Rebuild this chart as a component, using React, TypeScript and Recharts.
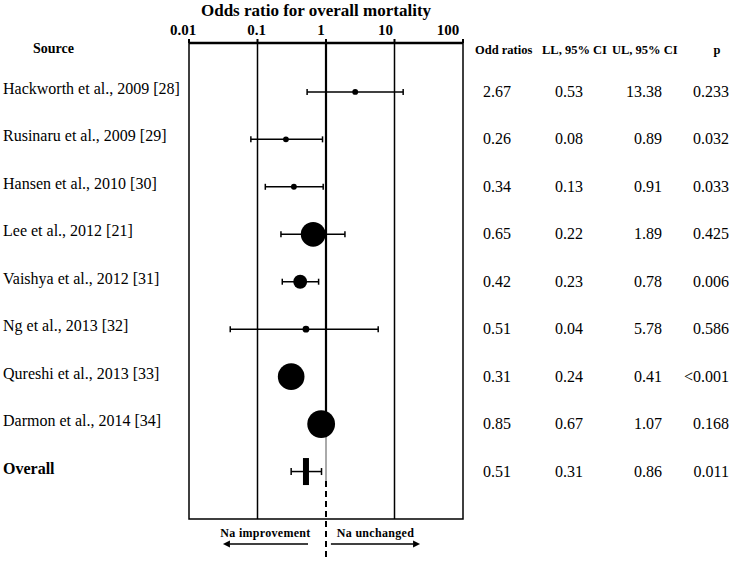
import React from 'react';
import {
  ComposedChart,
  Scatter,
  XAxis,
  YAxis,
  ZAxis,
  ErrorBar,
  ReferenceLine,
  ReferenceArea,
  Customized,
} from 'recharts';

// ---------- data ----------
const sources = [
  'Hackworth et al., 2009 [28]',
  'Rusinaru et al., 2009 [29]',
  'Hansen et al., 2010 [30]',
  'Lee et al., 2012 [21]',
  'Vaishya et al., 2012 [31]',
  'Ng et al., 2013 [32]',
  'Qureshi et al., 2013 [33]',
  'Darmon et al., 2014 [34]',
  'Overall',
];
const oddsRatios = [2.67, 0.26, 0.34, 0.65, 0.42, 0.51, 0.31, 0.85, 0.51];
const lowerCI = [0.53, 0.08, 0.13, 0.22, 0.23, 0.04, 0.24, 0.67, 0.31];
const upperCI = [13.38, 0.89, 0.91, 1.89, 0.78, 5.78, 0.41, 1.07, 0.86];
const pValues = ['0.233', '0.032', '0.033', '0.425', '0.006', '0.586', '<0.001', '0.168', '0.011'];
// relative study weights (shown as marker area)
const studyWeights = [1.4, 1.4, 1.4, 25, 7.9, 1.9, 29, 31.5];
const xTicks = [0.01, 0.1, 1, 10, 100];
const headers = ['Odd ratios', 'LL, 95% CI', 'UL, 95% CI', 'p'];

// ---------- derived tables ----------
const studies = studyWeights.map((w, i) => ({
  x: oddsRatios[i],
  y: i,
  w,
  err: [oddsRatios[i] - lowerCI[i], upperCI[i] - oddsRatios[i]],
}));
const overallIdx = sources.length - 1;
const overall = [
  {
    x: oddsRatios[overallIdx],
    y: overallIdx,
    err: [oddsRatios[overallIdx] - lowerCI[overallIdx], upperCI[overallIdx] - oddsRatios[overallIdx]],
  },
];

const FONT = '"Liberation Serif", "Times New Roman", serif';
const Y_DOMAIN: [number, number] = [-1.03, 9];
const HEADER_ROW = -0.92;
const tickShift = [-6, -1, -5, -9, -15];

const XTick = (props: any) => {
  const { x, y, payload, index } = props;
  return (
    <text
      x={x + (tickShift[index] ?? 0)}
      y={y - 2}
      textAnchor="middle"
      style={{ fontFamily: FONT }}
      fontWeight="bold"
      fontSize={15}
      fill="#000"
    >
      {String(payload.value)}
    </text>
  );
};

const RowTick = (props: any) => {
  const { y, payload } = props;
  const v = payload.value;
  if (v < 0) {
    return (
      <g style={{ fontFamily: FONT }} fontWeight="bold" fontSize={12.5} fill="#000">
        <text x={33} y={y + 5} fontSize={14} style={{ fontFamily: FONT }}>Source</text>
        <text x={475} y={y + 6} style={{ fontFamily: FONT }}>{headers[0]}</text>
        <text x={542} y={y + 6} style={{ fontFamily: FONT }}>{headers[1]}</text>
        <text x={612} y={y + 6} style={{ fontFamily: FONT }}>{headers[2]}</text>
        <text x={717} y={y + 6} textAnchor="middle" style={{ fontFamily: FONT }}>{headers[3]}</text>
      </g>
    );
  }
  const i = v as number;
  const isOverall = i === overallIdx;
  const s = { fontFamily: FONT };
  return (
    <g fontSize={16} fill="#000">
      <text x={3} y={y + 2} fontWeight={isOverall ? 'bold' : 'normal'} style={s}>
        {sources[i]}
      </text>
      <text x={511} y={y + 5} textAnchor="end" style={s}>{oddsRatios[i].toFixed(2)}</text>
      <text x={583} y={y + 5} textAnchor="end" style={s}>{lowerCI[i].toFixed(2)}</text>
      <text x={662} y={y + 5} textAnchor="end" style={s}>{upperCI[i].toFixed(2)}</text>
      <text x={729} y={y + 5} textAnchor="end" style={s}>{pValues[i]}</text>
    </g>
  );
};

const StudyDot = (props: any) => {
  const { cx, cy, width } = props;
  const r = Math.max(2.5, (width ?? 6) / 2);
  return <circle cx={cx} cy={cy} r={r} fill="#000" />;
};

const OverallMark = (props: any) => {
  const { cx, cy } = props;
  return <rect x={cx - 3} y={cy - 13.5} width={6} height={27} fill="#000" />;
};

const makeArrow = (label: string) => (props: any) => {
  const { x1, y1, x2, y2 } = props;
  const dir = x2 > x1 ? 1 : -1;
  const head = 7;
  const mid = (x1 + x2) / 2;
  return (
    <g>
      <line x1={x1} y1={y1} x2={x2 - dir * head} y2={y2} stroke="#000" strokeWidth={1.5} />
      <polygon
        points={`${x2},${y2} ${x2 - dir * head},${y2 - 3.5} ${x2 - dir * head},${y2 + 3.5}`}
        fill="#000"
      />
      <text
        x={mid}
        y={y1 - 7}
        textAnchor="middle"
        style={{ fontFamily: FONT }}
        fontWeight="bold"
        fontSize={12}
        letterSpacing={0.3}
        fill="#000"
      >
        {label}
      </text>
    </g>
  );
};

const Title = () => (
  <text
    x={316}
    y={16}
    textAnchor="middle"
    style={{ fontFamily: FONT }}
    fontWeight="bold"
    fontSize={17}
    fill="#000"
  >
    Odds ratio for overall mortality
  </text>
);

export default function App() {
  return (
    <div style={{ position: 'absolute', left: 0, top: 0, background: '#fff' }}>
      <ComposedChart
        width={733}
        height={561}
        margin={{ top: 0, right: 270, bottom: 42, left: 0 }}
      >
        <XAxis
          type="number"
          dataKey="x"
          scale="log"
          domain={[0.01, 100]}
          ticks={xTicks}
          orientation="top"
          height={43}
          allowDataOverflow
          axisLine={{ stroke: '#000', strokeWidth: 2.5 }}
          tickLine={{ stroke: '#000', strokeWidth: 2 }}
          tickSize={4}
          tick={<XTick />}
          interval={0}
        />
        <YAxis
          type="number"
          dataKey="y"
          domain={Y_DOMAIN}
          reversed
          allowDataOverflow
          ticks={[HEADER_ROW, 0, 1, 2, 3, 4, 5, 6, 7, 8]}
          interval={0}
          width={189}
          axisLine={false}
          tickLine={false}
          tick={<RowTick />}
        />
        <ZAxis type="number" dataKey="w" domain={[0, 32]} range={[0, 616]} />

        <ReferenceArea
          x1={0.01}
          x2={100}
          y1={Y_DOMAIN[0]}
          y2={Y_DOMAIN[1]}
          fill="none"
          fillOpacity={0}
          stroke="#000"
          strokeWidth={1.5}
          ifOverflow="visible"
        />
        <ReferenceLine x={0.1} stroke="#000" strokeWidth={1.5} />
        <ReferenceLine x={10} stroke="#000" strokeWidth={1.5} />
        <ReferenceLine
          segment={[{ x: 1, y: Y_DOMAIN[0] }, { x: 1, y: 7.28 }]}
          stroke="#000"
          strokeWidth={2.2}
          ifOverflow="visible"
        />
        <ReferenceLine
          segment={[{ x: 1, y: 7.28 }, { x: 1, y: 8.2 }]}
          stroke="#555"
          strokeWidth={1}
          ifOverflow="visible"
        />
        <ReferenceLine
          segment={[{ x: 1, y: 8.2 }, { x: 1, y: 9.9 }]}
          stroke="#000"
          strokeWidth={2}
          strokeDasharray="6 4"
          ifOverflow="visible"
        />
        <ReferenceLine
          segment={[{ x: 0.546, y: 9.527 }, { x: 0.0313, y: 9.527 }]}
          ifOverflow="visible"
          shape={makeArrow('Na  improvement')}
        />
        <ReferenceLine
          segment={[{ x: 1.18, y: 9.527 }, { x: 23.6, y: 9.527 }]}
          ifOverflow="visible"
          shape={makeArrow('Na unchanged')}
        />

        <Scatter data={studies} isAnimationActive={false} shape={<StudyDot />}>
          <ErrorBar dataKey="err" direction="x" width={3} stroke="#000" strokeWidth={1.5} />
        </Scatter>
        <Scatter data={overall} isAnimationActive={false} shape={<OverallMark />}>
          <ErrorBar dataKey="err" direction="x" width={3.5} stroke="#000" strokeWidth={1.5} />
        </Scatter>
        <Customized component={Title} />
      </ComposedChart>
    </div>
  );
}
